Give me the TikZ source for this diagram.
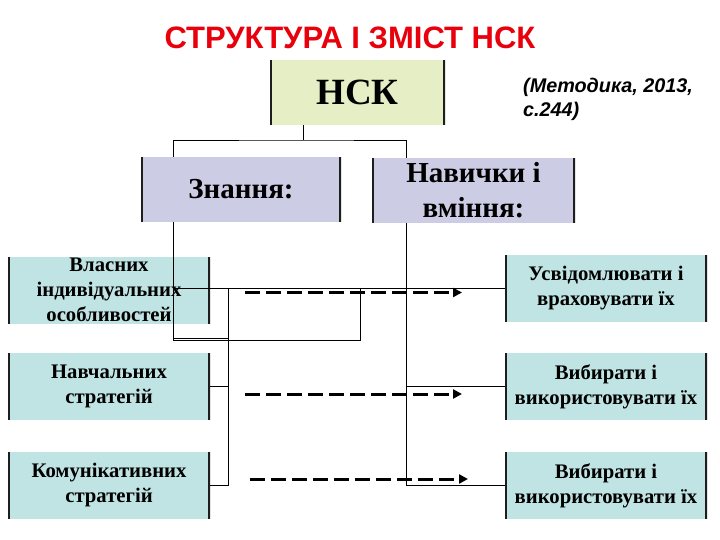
\documentclass[tikz,border=0pt]{standalone}
\usepackage{fontspec}
\setmainfont{Liberation Serif}
\newfontfamily\headfont{Liberation Sans}
\usetikzlibrary{arrows.meta}
\definecolor{nskfill}{RGB}{229,238,196}
\definecolor{topfill}{RGB}{204,204,228}
\definecolor{subfill}{RGB}{192,228,228}
\definecolor{sidegray}{RGB}{30,30,30}
\definecolor{titlered}{RGB}{232,0,12}
\begin{document}
\begin{tikzpicture}[x=1pt, y=-1pt,
    box/.style={rectangle, inner sep=0pt, align=center, fill=#1,
      path picture={\draw[sidegray, line width=4.6pt]
        (path picture bounding box.north west) -- (path picture bounding box.south west)
        (path picture bounding box.north east) -- (path picture bounding box.south east);}},
    topbox/.style={box=topfill, minimum height=65pt, font=\bfseries\fontsize{29}{35}\selectfont},
    subbox/.style={box=subfill, minimum width=202pt, minimum height=67pt, font=\bfseries\fontsize{20.7}{25}\selectfont},
    link/.style={draw, line width=0.8pt},
    hint/.style={draw, line width=3pt, dash pattern=on 15pt off 6pt, -{Triangle[length=9pt,width=9pt]}}]
    \useasboundingbox (0,0) rectangle (720,540);

    % Title and source
    \node[font=\headfont\bfseries\fontsize{31}{34}\selectfont, text=titlered] (title) at (350,38) {СТРУКТУРА І ЗМІСТ НСК};
    \node[anchor=north west, align=left, inner sep=0pt, font=\headfont\bfseries\itshape\fontsize{19.8}{24}\selectfont] (source) at (523,78) {(Методика, 2013,\\с.244)};

    % Boxes
    \node[box=nskfill, minimum width=175pt, minimum height=65pt, font=\bfseries\fontsize{37}{40}\selectfont] (nsk) at (357.5,92.5) {НСК};
    \node[topbox, minimum width=200pt] (know) at (241,189.5) {Знання:};
    \node[topbox, minimum width=203pt] (skill) at (473.5,190.5) {Навички і\\вміння:};

    \node[subbox] (own) at (109,290) {Власних\\індивідуальних\\особливостей};
    \node[subbox] (learn) at (109,386.5) {Навчальних\\стратегій};
    \node[subbox] (comm) at (109,485.5) {Комунікативних\\стратегій};

    \node[subbox] (aware) at (606,288.5) {Усвідомлювати і\\враховувати їх};
    \node[subbox] (choose) at (606,386.5) {Вибирати і\\використовувати їх};
    \node[subbox] (use) at (606,485.5) {Вибирати і\\використовувати їх};

    % Junctions
    \coordinate (split) at (303,140);
    \coordinate (knowdown) at (173,340);
    \coordinate (loop) at (360,289);
    \coordinate (leftbus) at (228,289);
    \coordinate (skilldown) at (406,485.5);

    % Connectors
    \draw[link] (nsk.south -| split) -- (split);
    \draw[link] (know.north -| knowdown) |- (split) -| (skill.north -| skilldown);
    \draw[link] (know.south -| knowdown) -- (knowdown) -| (loop);
    \draw[link] (knowdown |- aware.west) -- (aware.west);
    \draw[link] ([yshift=2pt]knowdown) -- ([yshift=2pt]knowdown -| leftbus);
    \draw[link] (leftbus) |- (comm.east);
    \draw[link] (learn.east) -- (learn.east -| leftbus);
    \draw[link] (skill.south -| skilldown) |- (use.west);
    \draw[link] (choose.west -| skilldown) -- (choose.west);

    % Dashed arrows
    \coordinate (a1) at (245,292.5);
    \coordinate (b1) at (462,292.5);
    \coordinate (a2) at (245,394);
    \coordinate (b2) at (462,394);
    \coordinate (a3) at (250,479);
    \coordinate (b3) at (468,479);
    \draw[hint] (a1) -- (b1);
    \draw[hint] (a2) -- (b2);
    \draw[hint] (a3) -- (b3);
\end{tikzpicture}
\end{document}
